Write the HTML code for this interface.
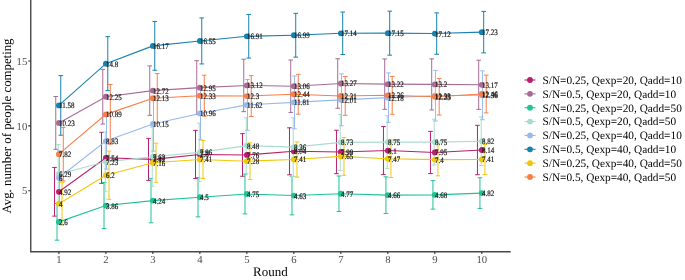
<!DOCTYPE html><html><head><meta charset="utf-8"><style>html,body{margin:0;padding:0;background:#fff;}svg{display:block;}</style></head><body><svg style="will-change:transform;text-rendering:geometricPrecision" width="685" height="280" viewBox="0 0 685 280">
<rect width="685" height="280" fill="#fff"/>
<g fill="none" stroke-width="1.0"><path d="M54.52 167.44V216.14M52.23 167.44H56.82M52.23 216.14H56.82" stroke="#B81F6E"/><path d="M101.52 132.31V183.31M99.22 132.31H103.81M99.22 183.31H103.81" stroke="#B81F6E"/><path d="M148.50 138.36V180.36M146.20 138.36H150.81M146.20 180.36H150.81" stroke="#B81F6E"/><path d="M195.50 130.33V178.53M193.19 130.33H197.80M193.19 178.53H197.80" stroke="#B81F6E"/><path d="M242.49 133.65V176.25M240.19 133.65H244.79M240.19 176.25H244.79" stroke="#B81F6E"/><path d="M289.48 127.82V174.82M287.18 127.82H291.78M287.18 174.82H291.78" stroke="#B81F6E"/><path d="M336.46 130.27V173.67M334.16 130.27H338.76M334.16 173.67H338.76" stroke="#B81F6E"/><path d="M383.45 126.44V174.64M381.15 126.44H385.75M381.15 174.64H385.75" stroke="#B81F6E"/><path d="M430.44 131.39V173.59M428.14 131.39H432.75M428.14 173.59H432.75" stroke="#B81F6E"/><path d="M477.44 125.32V174.72M475.13 125.32H479.74M475.13 174.72H479.74" stroke="#B81F6E"/><path d="M55.77 96.52V149.32M53.48 96.52H58.07M53.48 149.32H58.07" stroke="#A76C93"/><path d="M102.77 69.37V124.07M100.47 69.37H105.06M100.47 124.07H105.06" stroke="#A76C93"/><path d="M149.75 65.92V115.32M147.45 65.92H152.06M147.45 115.32H152.06" stroke="#A76C93"/><path d="M196.75 60.74V114.54M194.44 60.74H199.05M194.44 114.54H199.05" stroke="#A76C93"/><path d="M243.74 59.23V111.63M241.44 59.23H246.04M241.44 111.63H246.04" stroke="#A76C93"/><path d="M290.73 60.01V112.41M288.43 60.01H293.03M288.43 112.41H293.03" stroke="#A76C93"/><path d="M337.71 58.74V108.24M335.41 58.74H340.01M335.41 108.24H340.01" stroke="#A76C93"/><path d="M384.70 58.94V109.34M382.40 58.94H387.00M382.40 109.34H387.00" stroke="#A76C93"/><path d="M431.69 58.85V109.95M429.39 58.85H434.00M429.39 109.95H434.00" stroke="#A76C93"/><path d="M478.69 60.19V109.39M476.38 60.19H480.99M476.38 109.39H480.99" stroke="#A76C93"/><path d="M57.02 203.58V240.18M54.73 203.58H59.32M54.73 240.18H59.32" stroke="#1EC396"/><path d="M104.02 182.54V228.54M101.72 182.54H106.31M101.72 228.54H106.31" stroke="#1EC396"/><path d="M151.00 178.41V222.81M148.70 178.41H153.31M148.70 222.81H153.31" stroke="#1EC396"/><path d="M198.00 177.58V216.88M195.69 177.58H200.30M195.69 216.88H200.30" stroke="#1EC396"/><path d="M244.99 174.09V213.89M242.69 174.09H247.29M242.69 213.89H247.29" stroke="#1EC396"/><path d="M291.98 176.25V214.85M289.68 176.25H294.28M289.68 214.85H294.28" stroke="#1EC396"/><path d="M338.96 175.98V211.48M336.66 175.98H341.26M336.66 211.48H341.26" stroke="#1EC396"/><path d="M385.95 176.81V213.51M383.65 176.81H388.25M383.65 213.51H388.25" stroke="#1EC396"/><path d="M432.94 180.65V209.15M430.64 180.65H435.25M430.64 209.15H435.25" stroke="#1EC396"/><path d="M479.94 177.73V208.43M477.63 177.73H482.24M477.63 208.43H482.24" stroke="#1EC396"/><path d="M58.27 144.52V203.52M55.98 144.52H60.57M55.98 203.52H60.57" stroke="#AADDCB"/><path d="M105.27 131.93V191.73M102.97 131.93H107.56M102.97 191.73H107.56" stroke="#AADDCB"/><path d="M152.25 127.27V186.27M149.95 127.27H154.56M149.95 186.27H154.56" stroke="#AADDCB"/><path d="M199.25 123.16V181.56M196.94 123.16H201.55M196.94 181.56H201.55" stroke="#AADDCB"/><path d="M246.24 117.86V173.36M243.94 117.86H248.54M243.94 173.36H248.54" stroke="#AADDCB"/><path d="M293.23 117.87V176.47M290.93 117.87H295.53M290.93 176.47H295.53" stroke="#AADDCB"/><path d="M340.21 114.37V170.37M337.91 114.37H342.51M337.91 170.37H342.51" stroke="#AADDCB"/><path d="M387.20 115.61V168.61M384.90 115.61H389.50M384.90 168.61H389.50" stroke="#AADDCB"/><path d="M434.19 119.21V165.01M431.89 119.21H436.50M431.89 165.01H436.50" stroke="#AADDCB"/><path d="M481.19 116.90V165.50M478.88 116.90H483.49M478.88 165.50H483.49" stroke="#AADDCB"/><path d="M59.52 150.78V204.78M57.23 150.78H61.82M57.23 204.78H61.82" stroke="#98BAEB"/><path d="M106.52 113.07V169.07M104.22 113.07H108.81M104.22 169.07H108.81" stroke="#98BAEB"/><path d="M153.50 96.75V151.15M151.20 96.75H155.81M151.20 151.15H155.81" stroke="#98BAEB"/><path d="M200.50 87.15V139.75M198.19 87.15H202.80M198.19 139.75H202.80" stroke="#98BAEB"/><path d="M247.49 79.54V130.24M245.19 79.54H249.79M245.19 130.24H249.79" stroke="#98BAEB"/><path d="M294.48 76.02V128.82M292.18 76.02H296.78M292.18 128.82H296.78" stroke="#98BAEB"/><path d="M341.46 73.88V125.78M339.16 73.88H343.76M339.16 125.78H343.76" stroke="#98BAEB"/><path d="M388.45 72.93V122.33M386.15 72.93H390.75M386.15 122.33H390.75" stroke="#98BAEB"/><path d="M435.44 70.38V120.98M433.14 70.38H437.75M433.14 120.98H437.75" stroke="#98BAEB"/><path d="M482.44 70.84V119.74M480.13 70.84H484.74M480.13 119.74H484.74" stroke="#98BAEB"/><path d="M60.77 75.61V135.21M58.48 75.61H63.07M58.48 135.21H63.07" stroke="#1682AE"/><path d="M107.77 36.64V90.64M105.47 36.64H110.06M105.47 90.64H110.06" stroke="#1682AE"/><path d="M154.75 21.48V70.28M152.45 21.48H157.06M152.45 70.28H157.06" stroke="#1682AE"/><path d="M201.75 17.95V63.95M199.44 17.95H204.05M199.44 63.95H204.05" stroke="#1682AE"/><path d="M248.74 14.48V58.08M246.44 14.48H251.04M246.44 58.08H251.04" stroke="#1682AE"/><path d="M295.73 13.34V57.14M293.43 13.34H298.03M293.43 57.14H298.03" stroke="#1682AE"/><path d="M342.71 12.04V54.54M340.41 12.04H345.01M340.41 54.54H345.01" stroke="#1682AE"/><path d="M389.70 11.16V55.16M387.40 11.16H392.00M387.40 55.16H392.00" stroke="#1682AE"/><path d="M436.69 12.85V54.25M434.39 12.85H439.00M434.39 54.25H439.00" stroke="#1682AE"/><path d="M483.69 11.38V52.88M481.38 11.38H485.99M481.38 52.88H485.99" stroke="#1682AE"/><path d="M62.02 182.32V225.12M59.73 182.32H64.33M59.73 225.12H64.33" stroke="#F0C80A"/><path d="M109.02 151.04V199.34M106.72 151.04H111.31M106.72 199.34H111.31" stroke="#F0C80A"/><path d="M156.00 143.23V182.23M153.70 143.23H158.31M153.70 182.23H158.31" stroke="#F0C80A"/><path d="M203.00 140.59V178.39M200.69 140.59H205.30M200.69 178.39H205.30" stroke="#F0C80A"/><path d="M249.99 142.88V179.48M247.69 142.88H252.29M247.69 179.48H252.29" stroke="#F0C80A"/><path d="M296.98 141.89V177.09M294.68 141.89H299.28M294.68 177.09H299.28" stroke="#F0C80A"/><path d="M343.96 137.48V175.28M341.66 137.48H346.26M341.66 175.28H346.26" stroke="#F0C80A"/><path d="M390.95 139.91V177.51M388.65 139.91H393.25M388.65 177.51H393.25" stroke="#F0C80A"/><path d="M437.94 143.42V175.82M435.64 143.42H440.25M435.64 175.82H440.25" stroke="#F0C80A"/><path d="M484.94 144.39V174.59M482.63 144.39H487.24M482.63 174.59H487.24" stroke="#F0C80A"/><path d="M63.27 127.37V180.97M60.98 127.37H65.58M60.98 180.97H65.58" stroke="#F87E48"/><path d="M110.27 84.56V144.16M107.97 84.56H112.56M107.97 144.16H112.56" stroke="#F87E48"/><path d="M157.25 73.57V122.97M154.95 73.57H159.56M154.95 122.97H159.56" stroke="#F87E48"/><path d="M204.25 75.23V116.13M201.94 75.23H206.55M201.94 116.13H206.55" stroke="#F87E48"/><path d="M251.24 75.62V116.52M248.94 75.62H253.54M248.94 116.52H253.54" stroke="#F87E48"/><path d="M298.23 74.35V114.15M295.93 74.35H300.53M295.93 114.15H300.53" stroke="#F87E48"/><path d="M345.21 76.54V115.34M342.91 76.54H347.51M342.91 115.34H347.51" stroke="#F87E48"/><path d="M392.20 76.39V114.19M389.90 76.39H394.50M389.90 114.19H394.50" stroke="#F87E48"/><path d="M439.19 78.42V115.02M436.89 78.42H441.50M436.89 115.02H441.50" stroke="#F87E48"/><path d="M486.19 75.09V112.89M483.88 75.09H488.49M483.88 112.89H488.49" stroke="#F87E48"/></g>
<polyline points="58.90,191.79 105.89,157.81 152.88,159.36 199.87,154.43 246.86,154.95 293.85,151.32 340.84,151.97 387.83,150.54 434.82,152.49 481.81,150.02" fill="none" stroke="#B81F6E" stroke-width="1.1"/>
<polyline points="58.90,122.92 105.89,96.72 152.88,90.62 199.87,87.64 246.86,85.43 293.85,86.21 340.84,83.49 387.83,84.14 434.82,84.40 481.81,84.79" fill="none" stroke="#A76C93" stroke-width="1.1"/>
<polyline points="58.90,221.88 105.89,205.54 152.88,200.61 199.87,197.23 246.86,193.99 293.85,195.55 340.84,193.73 387.83,195.16 434.82,194.90 481.81,193.08" fill="none" stroke="#1EC396" stroke-width="1.1"/>
<polyline points="58.90,174.02 105.89,161.83 152.88,156.77 199.87,152.36 246.86,145.61 293.85,147.17 340.84,142.37 387.83,142.11 434.82,142.11 481.81,141.20" fill="none" stroke="#AADDCB" stroke-width="1.1"/>
<polyline points="58.90,177.78 105.89,141.07 152.88,123.95 199.87,113.45 246.86,104.89 293.85,102.42 340.84,99.83 387.83,97.63 434.82,95.68 481.81,95.29" fill="none" stroke="#98BAEB" stroke-width="1.1"/>
<polyline points="58.90,105.41 105.89,63.64 152.88,45.88 199.87,40.95 246.86,36.28 293.85,35.24 340.84,33.29 387.83,33.16 434.82,33.55 481.81,32.13" fill="none" stroke="#1682AE" stroke-width="1.1"/>
<polyline points="58.90,203.72 105.89,175.19 152.88,162.73 199.87,159.49 246.86,161.18 293.85,159.49 340.84,156.38 387.83,158.71 434.82,159.62 481.81,159.49" fill="none" stroke="#F0C80A" stroke-width="1.1"/>
<polyline points="58.90,154.17 105.89,114.36 152.88,98.27 199.87,95.68 246.86,96.07 293.85,94.25 340.84,95.94 387.83,95.29 434.82,96.72 481.81,93.99" fill="none" stroke="#F87E48" stroke-width="1.1"/>
<g fill="#B81F6E"><circle cx="58.90" cy="191.79" r="2.9"/><circle cx="105.89" cy="157.81" r="2.9"/><circle cx="152.88" cy="159.36" r="2.9"/><circle cx="199.87" cy="154.43" r="2.9"/><circle cx="246.86" cy="154.95" r="2.9"/><circle cx="293.85" cy="151.32" r="2.9"/><circle cx="340.84" cy="151.97" r="2.9"/><circle cx="387.83" cy="150.54" r="2.9"/><circle cx="434.82" cy="152.49" r="2.9"/><circle cx="481.81" cy="150.02" r="2.9"/></g>
<g fill="#A76C93"><circle cx="58.90" cy="122.92" r="2.9"/><circle cx="105.89" cy="96.72" r="2.9"/><circle cx="152.88" cy="90.62" r="2.9"/><circle cx="199.87" cy="87.64" r="2.9"/><circle cx="246.86" cy="85.43" r="2.9"/><circle cx="293.85" cy="86.21" r="2.9"/><circle cx="340.84" cy="83.49" r="2.9"/><circle cx="387.83" cy="84.14" r="2.9"/><circle cx="434.82" cy="84.40" r="2.9"/><circle cx="481.81" cy="84.79" r="2.9"/></g>
<g fill="#1EC396"><circle cx="58.90" cy="221.88" r="2.9"/><circle cx="105.89" cy="205.54" r="2.9"/><circle cx="152.88" cy="200.61" r="2.9"/><circle cx="199.87" cy="197.23" r="2.9"/><circle cx="246.86" cy="193.99" r="2.9"/><circle cx="293.85" cy="195.55" r="2.9"/><circle cx="340.84" cy="193.73" r="2.9"/><circle cx="387.83" cy="195.16" r="2.9"/><circle cx="434.82" cy="194.90" r="2.9"/><circle cx="481.81" cy="193.08" r="2.9"/></g>
<g fill="#AADDCB"><circle cx="58.90" cy="174.02" r="2.9"/><circle cx="105.89" cy="161.83" r="2.9"/><circle cx="152.88" cy="156.77" r="2.9"/><circle cx="199.87" cy="152.36" r="2.9"/><circle cx="246.86" cy="145.61" r="2.9"/><circle cx="293.85" cy="147.17" r="2.9"/><circle cx="340.84" cy="142.37" r="2.9"/><circle cx="387.83" cy="142.11" r="2.9"/><circle cx="434.82" cy="142.11" r="2.9"/><circle cx="481.81" cy="141.20" r="2.9"/></g>
<g fill="#98BAEB"><circle cx="58.90" cy="177.78" r="2.9"/><circle cx="105.89" cy="141.07" r="2.9"/><circle cx="152.88" cy="123.95" r="2.9"/><circle cx="199.87" cy="113.45" r="2.9"/><circle cx="246.86" cy="104.89" r="2.9"/><circle cx="293.85" cy="102.42" r="2.9"/><circle cx="340.84" cy="99.83" r="2.9"/><circle cx="387.83" cy="97.63" r="2.9"/><circle cx="434.82" cy="95.68" r="2.9"/><circle cx="481.81" cy="95.29" r="2.9"/></g>
<g fill="#1682AE"><circle cx="58.90" cy="105.41" r="2.9"/><circle cx="105.89" cy="63.64" r="2.9"/><circle cx="152.88" cy="45.88" r="2.9"/><circle cx="199.87" cy="40.95" r="2.9"/><circle cx="246.86" cy="36.28" r="2.9"/><circle cx="293.85" cy="35.24" r="2.9"/><circle cx="340.84" cy="33.29" r="2.9"/><circle cx="387.83" cy="33.16" r="2.9"/><circle cx="434.82" cy="33.55" r="2.9"/><circle cx="481.81" cy="32.13" r="2.9"/></g>
<g fill="#F0C80A"><circle cx="58.90" cy="203.72" r="2.9"/><circle cx="105.89" cy="175.19" r="2.9"/><circle cx="152.88" cy="162.73" r="2.9"/><circle cx="199.87" cy="159.49" r="2.9"/><circle cx="246.86" cy="161.18" r="2.9"/><circle cx="293.85" cy="159.49" r="2.9"/><circle cx="340.84" cy="156.38" r="2.9"/><circle cx="387.83" cy="158.71" r="2.9"/><circle cx="434.82" cy="159.62" r="2.9"/><circle cx="481.81" cy="159.49" r="2.9"/></g>
<g fill="#F87E48"><circle cx="58.90" cy="154.17" r="2.9"/><circle cx="105.89" cy="114.36" r="2.9"/><circle cx="152.88" cy="98.27" r="2.9"/><circle cx="199.87" cy="95.68" r="2.9"/><circle cx="246.86" cy="96.07" r="2.9"/><circle cx="293.85" cy="94.25" r="2.9"/><circle cx="340.84" cy="95.94" r="2.9"/><circle cx="387.83" cy="95.29" r="2.9"/><circle cx="434.82" cy="96.72" r="2.9"/><circle cx="481.81" cy="93.99" r="2.9"/></g>
<g font-family="Liberation Serif, serif" font-size="7.5" fill="#111" stroke="#111" stroke-width="0.18"><text transform="translate(59.10,194.79) scale(0.93,1.1)">4.92</text><text transform="translate(106.09,160.81) scale(0.93,1.1)">7.54</text><text transform="translate(153.08,162.36) scale(0.93,1.1)">7.42</text><text transform="translate(200.07,157.43) scale(0.93,1.1)">7.8</text><text transform="translate(247.06,157.95) scale(0.93,1.1)">7.76</text><text transform="translate(294.05,154.32) scale(0.93,1.1)">8.04</text><text transform="translate(341.04,154.97) scale(0.93,1.1)">7.99</text><text transform="translate(388.03,153.54) scale(0.93,1.1)">8.1</text><text transform="translate(435.02,155.49) scale(0.93,1.1)">7.95</text><text transform="translate(482.01,153.02) scale(0.93,1.1)">8.14</text><text transform="translate(59.10,125.92) scale(0.93,1.1)">10.23</text><text transform="translate(106.09,99.72) scale(0.93,1.1)">12.25</text><text transform="translate(153.08,93.62) scale(0.93,1.1)">12.72</text><text transform="translate(200.07,90.64) scale(0.93,1.1)">12.95</text><text transform="translate(247.06,88.43) scale(0.93,1.1)">13.12</text><text transform="translate(294.05,89.21) scale(0.93,1.1)">13.06</text><text transform="translate(341.04,86.49) scale(0.93,1.1)">13.27</text><text transform="translate(388.03,87.14) scale(0.93,1.1)">13.22</text><text transform="translate(435.02,87.40) scale(0.93,1.1)">13.2</text><text transform="translate(482.01,87.79) scale(0.93,1.1)">13.17</text><text transform="translate(59.10,224.88) scale(0.93,1.1)">2.6</text><text transform="translate(106.09,208.54) scale(0.93,1.1)">3.86</text><text transform="translate(153.08,203.61) scale(0.93,1.1)">4.24</text><text transform="translate(200.07,200.23) scale(0.93,1.1)">4.5</text><text transform="translate(247.06,196.99) scale(0.93,1.1)">4.75</text><text transform="translate(294.05,198.55) scale(0.93,1.1)">4.63</text><text transform="translate(341.04,196.73) scale(0.93,1.1)">4.77</text><text transform="translate(388.03,198.16) scale(0.93,1.1)">4.66</text><text transform="translate(435.02,197.90) scale(0.93,1.1)">4.68</text><text transform="translate(482.01,196.08) scale(0.93,1.1)">4.82</text><text transform="translate(59.10,177.02) scale(0.93,1.1)">6.29</text><text transform="translate(106.09,164.83) scale(0.93,1.1)">7.23</text><text transform="translate(153.08,159.77) scale(0.93,1.1)">7.62</text><text transform="translate(200.07,155.36) scale(0.93,1.1)">7.96</text><text transform="translate(247.06,148.61) scale(0.93,1.1)">8.48</text><text transform="translate(294.05,150.17) scale(0.93,1.1)">8.36</text><text transform="translate(341.04,145.37) scale(0.93,1.1)">8.73</text><text transform="translate(388.03,145.11) scale(0.93,1.1)">8.75</text><text transform="translate(435.02,145.11) scale(0.93,1.1)">8.75</text><text transform="translate(482.01,144.20) scale(0.93,1.1)">8.82</text><text transform="translate(59.10,180.78) scale(0.93,1.1)">6</text><text transform="translate(106.09,144.07) scale(0.93,1.1)">8.83</text><text transform="translate(153.08,126.95) scale(0.93,1.1)">10.15</text><text transform="translate(200.07,116.45) scale(0.93,1.1)">10.96</text><text transform="translate(247.06,107.89) scale(0.93,1.1)">11.62</text><text transform="translate(294.05,105.42) scale(0.93,1.1)">11.81</text><text transform="translate(341.04,102.83) scale(0.93,1.1)">12.01</text><text transform="translate(388.03,100.63) scale(0.93,1.1)">12.18</text><text transform="translate(435.02,98.68) scale(0.93,1.1)">12.33</text><text transform="translate(482.01,98.29) scale(0.93,1.1)">12.36</text><text transform="translate(59.10,108.41) scale(0.93,1.1)">11.58</text><text transform="translate(106.09,66.64) scale(0.93,1.1)">14.8</text><text transform="translate(153.08,48.88) scale(0.93,1.1)">16.17</text><text transform="translate(200.07,43.95) scale(0.93,1.1)">16.55</text><text transform="translate(247.06,39.28) scale(0.93,1.1)">16.91</text><text transform="translate(294.05,38.24) scale(0.93,1.1)">16.99</text><text transform="translate(341.04,36.29) scale(0.93,1.1)">17.14</text><text transform="translate(388.03,36.16) scale(0.93,1.1)">17.15</text><text transform="translate(435.02,36.55) scale(0.93,1.1)">17.12</text><text transform="translate(482.01,35.13) scale(0.93,1.1)">17.23</text><text transform="translate(59.10,206.72) scale(0.93,1.1)">4</text><text transform="translate(106.09,178.19) scale(0.93,1.1)">6.2</text><text transform="translate(153.08,165.73) scale(0.93,1.1)">7.16</text><text transform="translate(200.07,162.49) scale(0.93,1.1)">7.41</text><text transform="translate(247.06,164.18) scale(0.93,1.1)">7.28</text><text transform="translate(294.05,162.49) scale(0.93,1.1)">7.41</text><text transform="translate(341.04,159.38) scale(0.93,1.1)">7.65</text><text transform="translate(388.03,161.71) scale(0.93,1.1)">7.47</text><text transform="translate(435.02,162.62) scale(0.93,1.1)">7.4</text><text transform="translate(482.01,162.49) scale(0.93,1.1)">7.41</text><text transform="translate(59.10,157.17) scale(0.93,1.1)">7.82</text><text transform="translate(106.09,117.36) scale(0.93,1.1)">10.89</text><text transform="translate(153.08,101.27) scale(0.93,1.1)">12.13</text><text transform="translate(200.07,98.68) scale(0.93,1.1)">12.33</text><text transform="translate(247.06,99.07) scale(0.93,1.1)">12.3</text><text transform="translate(294.05,97.25) scale(0.93,1.1)">12.44</text><text transform="translate(341.04,98.94) scale(0.93,1.1)">12.31</text><text transform="translate(388.03,98.29) scale(0.93,1.1)">12.36</text><text transform="translate(435.02,99.72) scale(0.93,1.1)">12.25</text><text transform="translate(482.01,96.99) scale(0.93,1.1)">12.46</text></g>
<path d="M30.75 0V251.7H510" fill="none" stroke="#484848" stroke-width="1.4" stroke-linecap="square"/>
<path d="M28.2 190.75H30.8M28.2 125.90H30.8M28.2 61.05H30.8M58.90 251.7V254M105.89 251.7V254M152.88 251.7V254M199.87 251.7V254M246.86 251.7V254M293.85 251.7V254M340.84 251.7V254M387.83 251.7V254M434.82 251.7V254M481.81 251.7V254" stroke="#333" stroke-width="1.1"/>
<g font-family="Liberation Serif, serif" font-size="10.7" fill="#4d4d4d"><text x="27.3" y="194.35" text-anchor="end">5</text><text x="27.3" y="129.50" text-anchor="end">10</text><text x="27.3" y="64.65" text-anchor="end">15</text><text x="58.90" y="262.8" text-anchor="middle">1</text><text x="105.89" y="262.8" text-anchor="middle">2</text><text x="152.88" y="262.8" text-anchor="middle">3</text><text x="199.87" y="262.8" text-anchor="middle">4</text><text x="246.86" y="262.8" text-anchor="middle">5</text><text x="293.85" y="262.8" text-anchor="middle">6</text><text x="340.84" y="262.8" text-anchor="middle">7</text><text x="387.83" y="262.8" text-anchor="middle">8</text><text x="434.82" y="262.8" text-anchor="middle">9</text><text x="481.81" y="262.8" text-anchor="middle">10</text></g>
<text x="270.4" y="275.9" text-anchor="middle" font-family="Liberation Serif, serif" font-size="13" fill="#000">Round</text>
<text transform="translate(11.3,126) rotate(-90)" text-anchor="middle" font-family="Liberation Serif, serif" font-size="12.8" fill="#000">Avg. number of people competing</text>
<path d="M524.5 80.00H535.5" stroke="#B81F6E" stroke-width="1.1"/><circle cx="530" cy="80.00" r="2.9" fill="#B81F6E"/><text x="542.5" y="83.90" font-family="Liberation Serif, serif" font-size="11.3" fill="#000">S/N=0.25, Qexp=20, Qadd=10</text><path d="M524.5 93.86H535.5" stroke="#A76C93" stroke-width="1.1"/><circle cx="530" cy="93.86" r="2.9" fill="#A76C93"/><text x="542.5" y="97.76" font-family="Liberation Serif, serif" font-size="11.3" fill="#000">S/N=0.5, Qexp=20, Qadd=10</text><path d="M524.5 107.72H535.5" stroke="#1EC396" stroke-width="1.1"/><circle cx="530" cy="107.72" r="2.9" fill="#1EC396"/><text x="542.5" y="111.62" font-family="Liberation Serif, serif" font-size="11.3" fill="#000">S/N=0.25, Qexp=20, Qadd=50</text><path d="M524.5 121.58H535.5" stroke="#AADDCB" stroke-width="1.1"/><circle cx="530" cy="121.58" r="2.9" fill="#AADDCB"/><text x="542.5" y="125.48" font-family="Liberation Serif, serif" font-size="11.3" fill="#000">S/N=0.5, Qexp=20, Qadd=50</text><path d="M524.5 135.44H535.5" stroke="#98BAEB" stroke-width="1.1"/><circle cx="530" cy="135.44" r="2.9" fill="#98BAEB"/><text x="542.5" y="139.34" font-family="Liberation Serif, serif" font-size="11.3" fill="#000">S/N=0.25, Qexp=40, Qadd=10</text><path d="M524.5 149.30H535.5" stroke="#1682AE" stroke-width="1.1"/><circle cx="530" cy="149.30" r="2.9" fill="#1682AE"/><text x="542.5" y="153.20" font-family="Liberation Serif, serif" font-size="11.3" fill="#000">S/N=0.5, Qexp=40, Qadd=10</text><path d="M524.5 163.16H535.5" stroke="#F0C80A" stroke-width="1.1"/><circle cx="530" cy="163.16" r="2.9" fill="#F0C80A"/><text x="542.5" y="167.06" font-family="Liberation Serif, serif" font-size="11.3" fill="#000">S/N=0.25, Qexp=40, Qadd=50</text><path d="M524.5 177.02H535.5" stroke="#F87E48" stroke-width="1.1"/><circle cx="530" cy="177.02" r="2.9" fill="#F87E48"/><text x="542.5" y="180.92" font-family="Liberation Serif, serif" font-size="11.3" fill="#000">S/N=0.5, Qexp=40, Qadd=50</text>
</svg></body></html>
